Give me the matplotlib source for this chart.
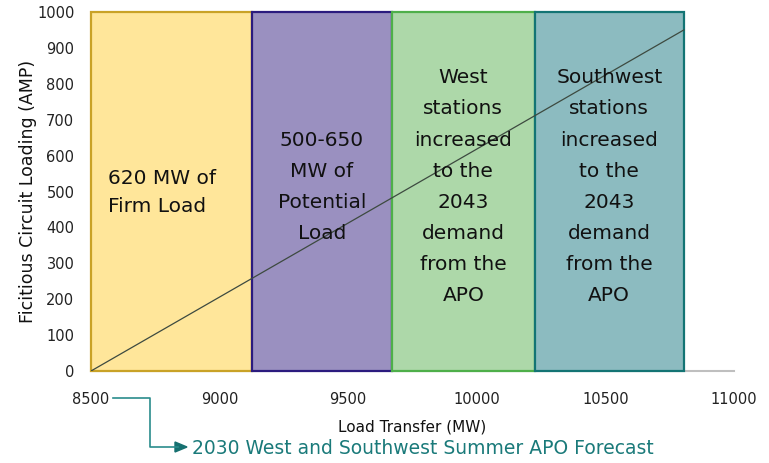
import matplotlib
matplotlib.use("Agg")
import matplotlib.pyplot as plt
from matplotlib.patches import Rectangle
from matplotlib.lines import Line2D

# ---- data ----
zone_starts = [8500, 9125, 9670, 10225]
zone_ends = [9125, 9670, 10225, 10805]
zone_top = 1000
zone_labels = [
    "620 MW of\nFirm Load",
    "500-650\nMW of\nPotential\nLoad",
    "West\nstations\nincreased\nto the\n2043\ndemand\nfrom the\nAPO",
    "Southwest\nstations\nincreased\nto the\n2043\ndemand\nfrom the\nAPO",
]
zone_fill = ["#FFE69A", "#9A90C0", "#ADD8A9", "#8CBBC0"]
zone_edge = ["#C9A227", "#2B1B7E", "#4EAF4A", "#137474"]

line_x = [8500, 10805]
line_y = [0, 950]

x_ticks = [8500, 9000, 9500, 10000, 10500, 11000]
y_ticks = list(range(0, 1001, 100))

W, H = 769, 463
fig = plt.figure(figsize=(W / 100, H / 100), dpi=100)
ax = fig.add_axes([91 / W, 1 - 371 / H, (734 - 91) / W, (371 - 12) / H])
ax.set_xlim(8500, 11000)
ax.set_ylim(0, 1000)

for s, e, fc, ec in zip(zone_starts, zone_ends, zone_fill, zone_edge):
    ax.add_patch(Rectangle((s, 0), e - s, zone_top, facecolor=fc, edgecolor=ec,
                           linewidth=1.6, clip_on=False, zorder=2))

ax.plot(line_x, line_y, color="#3d4a40", linewidth=0.9, zorder=3)

# zone texts
ax.text(8565, 497, zone_labels[0], ha="left", va="center", fontsize=14.5,
        linespacing=1.64, color="#111111", zorder=4)
for i in range(1, 4):
    xc = (zone_starts[i] + zone_ends[i]) / 2
    ax.text(xc, 513, zone_labels[i], ha="center", va="center", fontsize=14.5,
            linespacing=1.81, color="#111111", zorder=4)

for sp in ["top", "right", "left"]:
    ax.spines[sp].set_visible(False)
ax.spines["bottom"].set_color("#BFBFBF")
ax.spines["bottom"].set_linewidth(1.5)
ax.spines["bottom"].set_zorder(1)

ax.set_xticks(x_ticks)
ax.set_yticks(y_ticks)
ax.tick_params(axis="both", length=0, labelsize=10.5, colors="#222222")
ax.tick_params(axis="x", pad=15)
ax.tick_params(axis="y", pad=12)

ax.set_xlabel("Load Transfer (MW)", fontsize=11, color="#111111", labelpad=9)
ax.set_ylabel("Ficitious Circuit Loading (AMP)", fontsize=12.5, color="#111111", labelpad=0)

# bottom annotation with elbow arrow (figure pixel coords)
teal = "#2A8C8C"
fig.add_artist(Line2D([113 / W, 150 / W, 150 / W, 178 / W],
                      [1 - 398 / H, 1 - 398 / H, 1 - 447 / H, 1 - 447 / H],
                      color=teal, linewidth=1.2, transform=fig.transFigure))
fig.add_artist(plt.Polygon([[175 / W, 1 - 442 / H], [175 / W, 1 - 452 / H], [187 / W, 1 - 447 / H]],
                           closed=True, color="#167070", transform=fig.transFigure))
fig.text(192 / W, 1 - 449 / H, "2030 West and Southwest Summer APO Forecast",
         ha="left", va="center", fontsize=13.5, color="#1A7A7A")

fig.savefig("out.png", dpi=100)
